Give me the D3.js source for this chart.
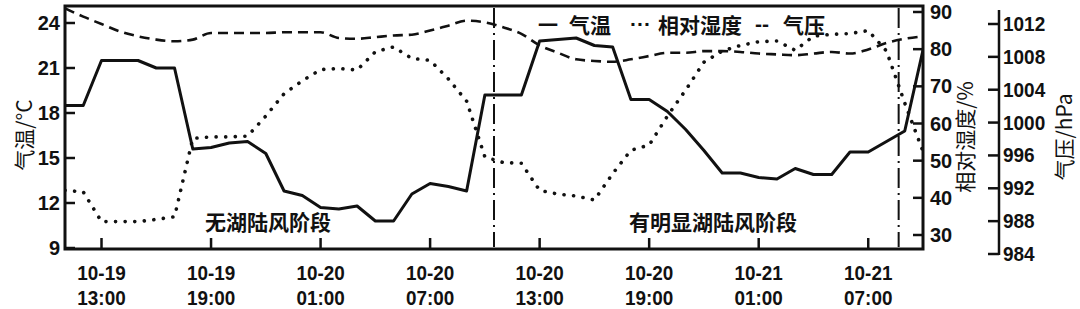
<!DOCTYPE html>
<html><head><meta charset="utf-8">
<script src="https://cdn.jsdelivr.net/npm/d3@7/dist/d3.min.js"></script>
<style>
html,body{margin:0;padding:0;background:#fff;}
svg{display:block;}
</style></head>
<body>
<svg id="chart" width="1080" height="309"></svg>
<script>
const times = ["10-19 11:00","10-19 12:00","10-19 13:00","10-19 14:00","10-19 15:00","10-19 16:00","10-19 17:00","10-19 18:00","10-19 19:00","10-19 20:00","10-19 21:00","10-19 22:00","10-19 23:00","10-20 00:00","10-20 01:00","10-20 02:00","10-20 03:00","10-20 04:00","10-20 05:00","10-20 06:00","10-20 07:00","10-20 08:00","10-20 09:00","10-20 10:00","10-20 11:00","10-20 12:00","10-20 13:00","10-20 14:00","10-20 15:00","10-20 16:00","10-20 17:00","10-20 18:00","10-20 19:00","10-20 20:00","10-20 21:00","10-20 22:00","10-20 23:00","10-21 00:00","10-21 01:00","10-21 02:00","10-21 03:00","10-21 04:00","10-21 05:00","10-21 06:00","10-21 07:00","10-21 08:00","10-21 09:00","10-21 10:00"];
const temperature = [18.5,18.5,21.5,21.5,21.5,21.0,21.0,15.6,15.7,16.0,16.1,15.3,12.8,12.5,11.7,11.6,11.8,10.8,10.8,12.6,13.3,13.1,12.8,19.2,19.2,19.2,22.8,22.9,23.0,22.5,22.4,18.9,18.9,18.1,16.9,15.5,14.0,14.0,13.7,13.6,14.3,13.9,13.9,15.4,15.4,16.1,16.8,22.2];
const humidity = [42,41.6,33.6,33.6,33.6,34.2,34.9,56,56.4,56.4,56.6,62,68,71.5,74.5,74.8,74.4,79.3,80.6,77.5,77,72,66,51,49.5,49.3,42,41,40.5,39.4,46.5,52.8,54.2,62,69,76.5,79.5,81,82,82.2,79.7,83.5,84,84.2,85,79.5,65.5,52.5];
const pressure = [1013.9,1012.9,1012.0,1011.1,1010.5,1010.1,1009.9,1010.1,1010.9,1010.9,1010.9,1010.9,1011.0,1011.0,1011.0,1010.3,1010.2,1010.4,1010.6,1010.7,1011.2,1011.8,1012.4,1012.2,1011.6,1010.8,1009.4,1008.5,1007.7,1007.5,1007.4,1007.7,1008.1,1008.5,1008.5,1008.7,1008.7,1008.6,1008.4,1008.3,1008.2,1008.4,1008.6,1008.4,1008.9,1009.7,1010.2,1010.5];
const xTickLabels = ["10-19 13:00","10-19 19:00","10-20 01:00","10-20 07:00","10-20 13:00","10-20 19:00","10-21 01:00","10-21 07:00"];
const tempTicks = [9,12,15,18,21,24];
const humTicks = [30,40,50,60,70,80,90];
const presTicks = [984,988,992,996,1000,1004,1008,1012];
const phaseMarks = ["10-20 10:30","10-21 08:40"];
const phaseLabels = ["无湖陆风阶段","有明显湖陆风阶段"];
const legendItems = [{sym:"一", label:"气温"},{sym:"···", label:"相对湿度"},{sym:"--", label:"气压"}];

const parse = d3.timeParse("%m-%d %H:%M");
const svg = d3.select("#chart");
const L = 65, R = 923, T = 6, B = 249;

const x = d3.scaleTime().domain([parse(times[0]), parse(times[times.length-1])]).range([L, R]);
const yT = d3.scaleLinear().domain([9,24]).range([248,23]);
const yH = d3.scaleLinear().domain([30,90]).range([235,12]);
const yP = d3.scaleLinear().domain([984,1012]).range([254,24]);

const num = "'Liberation Sans', Arial, sans-serif";
const cjk = "'Noto Sans CJK SC', sans-serif";

const tData = times.map((t,i)=>({t:parse(t), v:temperature[i]}));
const hData = times.map((t,i)=>({t:parse(t), v:humidity[i]}));
const pData = times.map((t,i)=>({t:parse(t), v:pressure[i]}));

svg.append("clipPath").attr("id","plotclip").append("rect")
  .attr("x",L).attr("y",T).attr("width",R-L).attr("height",B-T);
const plot = svg.append("g").attr("clip-path","url(#plotclip)");

plot.append("path").datum(pData)
  .attr("d", d3.line().x(d=>x(d.t)).y(d=>yP(d.v)).curve(d3.curveMonotoneX))
  .attr("fill","none").attr("stroke","#111").attr("stroke-width",2.6)
  .attr("stroke-dasharray","10,6");

plot.append("path").datum(hData)
  .attr("d", d3.line().x(d=>x(d.t)).y(d=>yH(d.v)))
  .attr("fill","none").attr("stroke","#111").attr("stroke-width",3.6)
  .attr("stroke-linecap","round").attr("stroke-dasharray","0.1,9.5");

plot.append("path").datum(tData)
  .attr("d", d3.line().x(d=>x(d.t)).y(d=>yT(d.v)))
  .attr("fill","none").attr("stroke","#111").attr("stroke-width",3)
  .attr("stroke-linejoin","round");

svg.selectAll(".phase").data(phaseMarks).enter().append("line")
  .attr("x1",d=>x(parse(d))).attr("x2",d=>x(parse(d)))
  .attr("y1",T+2).attr("y2",B-2)
  .attr("stroke","#111").attr("stroke-width",2)
  .attr("stroke-dasharray","20,5,2,5");

svg.append("rect").attr("x",L).attr("y",T).attr("width",R-L).attr("height",B-T)
  .attr("fill","none").attr("stroke","#111").attr("stroke-width",3);

tempTicks.forEach(v=>{
  svg.append("line").attr("x1",L).attr("x2",L+10).attr("y1",yT(v)).attr("y2",yT(v))
    .attr("stroke","#111").attr("stroke-width",2.5);
  svg.append("text").attr("x",60).attr("y",yT(v)+7).attr("text-anchor","end")
    .attr("font-family",num).attr("font-weight","bold").attr("font-size",20)
    .attr("fill","#111").text(v);
});
humTicks.forEach(v=>{
  svg.append("line").attr("x1",R-10).attr("x2",R).attr("y1",yH(v)).attr("y2",yH(v))
    .attr("stroke","#111").attr("stroke-width",2.5);
  svg.append("text").attr("x",930).attr("y",yH(v)+7).attr("text-anchor","start")
    .attr("font-family",num).attr("font-weight","bold").attr("font-size",20)
    .attr("fill","#111").text(v);
});
const PX = 999;
svg.append("line").attr("x1",PX).attr("x2",PX).attr("y1",10).attr("y2",yP(984)+1)
  .attr("stroke","#111").attr("stroke-width",2.5);
presTicks.forEach(v=>{
  svg.append("line").attr("x1",PX-11).attr("x2",PX).attr("y1",yP(v)).attr("y2",yP(v))
    .attr("stroke","#111").attr("stroke-width",2.5);
  svg.append("text").attr("x",PX+4).attr("y",yP(v)+7).attr("text-anchor","start")
    .attr("font-family",num).attr("font-weight","bold").attr("font-size",20)
    .attr("transform",`translate(${(PX+4)*0.05},0) scale(0.95,1)`)
    .attr("fill","#111").text(v);
});

xTickLabels.forEach(s=>{
  const xv = x(parse(s));
  svg.append("line").attr("x1",xv).attr("x2",xv).attr("y1",B).attr("y2",B-11)
    .attr("stroke","#111").attr("stroke-width",2.5);
  const parts = s.split(" ");
  const g = svg.append("g").attr("transform",`translate(${xv},0) scale(0.9,1)`);
  g.append("text").attr("x",0).attr("y",280).attr("text-anchor","middle")
    .attr("font-family",num).attr("font-weight","bold").attr("font-size",21)
    .attr("fill","#111").text(parts[0]);
  g.append("text").attr("x",0).attr("y",305).attr("text-anchor","middle")
    .attr("font-family",num).attr("font-weight","bold").attr("font-size",21)
    .attr("fill","#111").text(parts[1]);
});

svg.append("text").attr("transform","translate(32,135) rotate(-90)")
  .attr("text-anchor","middle").attr("font-family",cjk).attr("font-size",21)
  .attr("fill","#111").text("气温/°C");
svg.append("text").attr("transform","translate(973,137) rotate(-90)")
  .attr("text-anchor","middle").attr("font-family",cjk).attr("font-size",21)
  .attr("fill","#111").text("相对湿度/%");
svg.append("text").attr("transform","translate(1072,137) rotate(-90)")
  .attr("text-anchor","middle").attr("font-family",cjk).attr("font-size",21)
  .attr("fill","#111").text("气压/hPa");

const phaseX = [268, 713];
phaseLabels.forEach((p,i)=>{
  svg.append("text").attr("x",phaseX[i]).attr("y",230).attr("text-anchor","middle")
    .attr("font-family",cjk).attr("font-weight","bold").attr("font-size",21)
    .attr("fill","#111").text(p);
});

const legX = [[538,569],[630,658],[755,783]];
legendItems.forEach((d,i)=>{
  svg.append("text").attr("x",legX[i][0]).attr("y",i===0?33:31)
    .attr("font-family",i===0?cjk:num).attr("font-weight","bold").attr("font-size",i===0?20:21)
    .attr("fill","#111").text(d.sym);
  svg.append("text").attr("x",legX[i][1]).attr("y",33)
    .attr("font-family",cjk).attr("font-weight","bold").attr("font-size",21)
    .attr("fill","#111").text(d.label);
});
</script>
</body></html>
